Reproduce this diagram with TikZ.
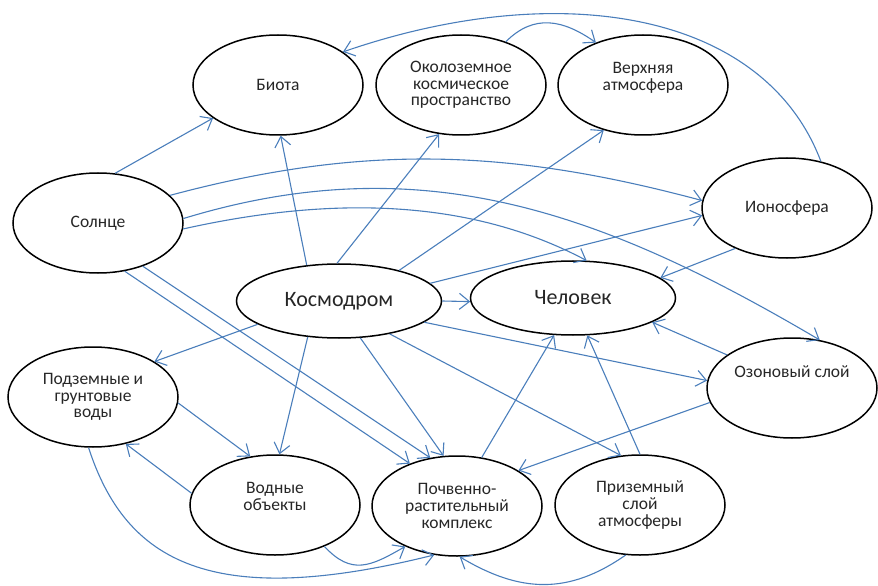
\documentclass[tikz,border=0pt]{standalone}
\usepackage{fontspec}
\setmainfont{Carlito}
\usetikzlibrary{shapes.geometric,arrows.meta}
\definecolor{linkblue}{RGB}{74,126,187}
\tikzset{
  bubble/.style={draw, ellipse, line width=1.5bp, minimum width=170bp, minimum height=100bp,
    inner sep=0pt, align=center, text=black!85, font=\fontsize{17.5bp}{16.7bp}\selectfont},
  bigbubble/.style={bubble, minimum width=205bp, minimum height=74bp, font=\fontsize{22bp}{26bp}\selectfont},
  link/.style={->, draw=linkblue, line width=1.1bp},
  >={Straight Barb[length=10bp,width=16bp]}
}
\begin{document}
\begin{tikzpicture}[x=1bp, y=1bp]
\useasboundingbox (0,0) rectangle (878,-586);
% nodes
\node[bubble] (bio) at (278,-85) {Биота};
\node[bubble] (orb) at (461,-85) {Околоземное\\космическое\\пространство};
\node[bubble] (upper) at (643,-85) {Верхняя\\атмосфера\\~};
\node[bubble] (sun) at (98,-223) {Солнце};
\node[bubble] (iono) at (787,-208) {Ионосфера};
\node[bigbubble] (cosmo) at (339,-301) {Космодром};
\node[bigbubble] (human) at (573,-298) {Человек};
\node[bubble] (ground) at (93,-397) {Подземные и\\грунтовые\\воды};
\node[bubble] (ozone) at (792,-388) {Озоновый слой\\~\\~};
\node[bubble] (water) at (275,-505) {Водные\\объекты\\~};
\node[bubble] (soil) at (457,-506) {Почвенно-\\растительный\\комплекс};
\node[bubble] (surf) at (640,-505) {Приземный\\слой\\атмосферы};
% links
\draw[link] (sun.71)--(bio.207);
\draw[link] (sun.21) .. controls +(15:200) and +(165:200) .. (iono.175);
\draw[link] (sun.3) .. controls +(17:250) and +(149.5:250) .. (ozone.60);
\draw[link] (sun.356) .. controls +(12.6:140) and +(152:140) .. (human.70);
\draw[link] (sun.299)--(soil.138);
\draw[link] (sun.316)--(soil.119);
\draw[link] (cosmo.132)--(bio.273);
\draw[link] (cosmo.93)--(orb.246);
\draw[link] (cosmo.27)--(upper.229);
\draw[link] (cosmo.11)--(iono.185);
\draw[link] (cosmo.0)--(human.182);
\draw[link] (cosmo.346)--(ozone.175);
\draw[link] (cosmo.327)--(surf.111);
\draw[link] (cosmo.300)--(soil.105);
\draw[link] (cosmo.229)--(water.85);
\draw[link] (cosmo.196)--(ground.30);
\draw[link] (ground.356)--(water.117);
\draw[link] (water.172)--(ground.305);
\draw[link] (ground.265) .. controls +(-72:120) and +(194:230) .. (soil.245);
\draw[link] (water.320) .. controls +(-47:40) and +(210:40) .. (soil.218);
\draw[link] (surf.254) .. controls +(215:70) and +(-31:70) .. (soil.273);
\draw[link] (soil.63)--(human.243);
\draw[link] (surf.90)--(human.291);
\draw[link] (ozone.153)--(human.343);
\draw[link] (ozone.190)--(soil.30);
\draw[link] (iono.218)--(human.13);
\draw[link] (iono.54) .. controls +(110.7:160) and +(19:230) .. (bio.27);
\draw[link] (orb.44) .. controls +(45:40) and +(145:40) .. (upper.138);
\end{tikzpicture}
\end{document}
